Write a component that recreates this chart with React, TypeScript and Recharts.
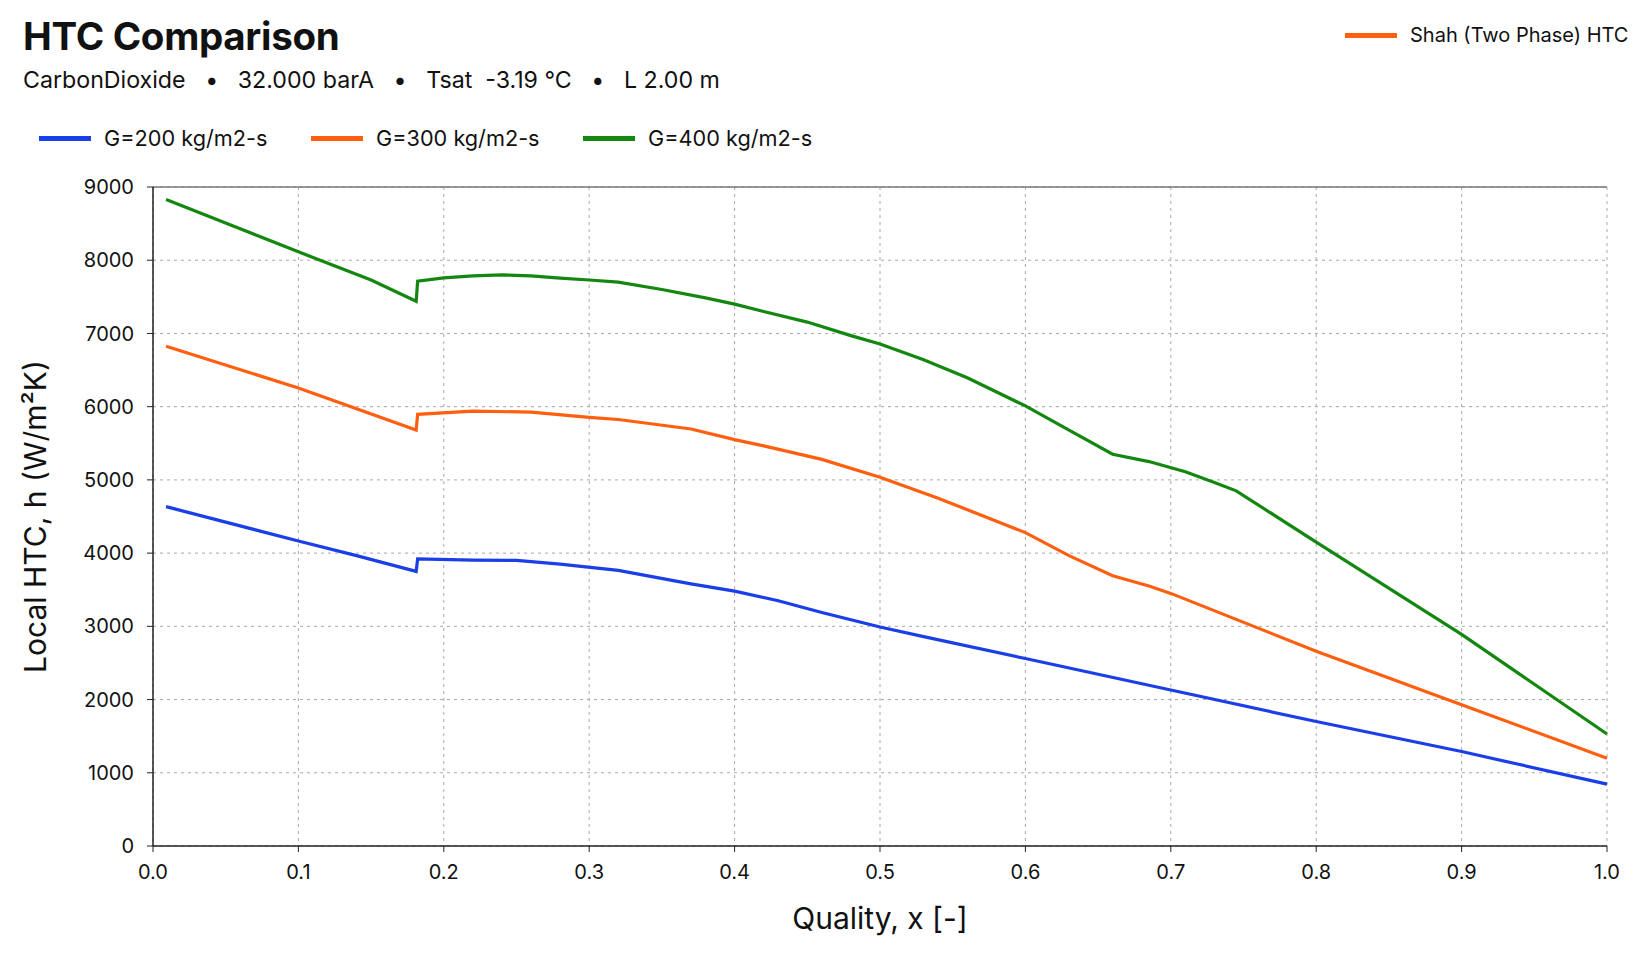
import React from "react"
import {
  LineChart,
  Line,
  XAxis,
  YAxis,
  CartesianGrid,
  ReferenceLine,
} from "recharts"

// quality (x) and local HTC (W/m2K) per mass flux
const G200_X = [0.009, 0.1, 0.14, 0.181, 0.182, 0.22, 0.25, 0.28, 0.32, 0.37, 0.4, 0.43, 0.46, 0.5, 0.53, 0.6, 0.7, 0.8, 0.9, 1.0]
const G200_H = [4635, 4165, 3965, 3750, 3920, 3905, 3900, 3850, 3765, 3580, 3480, 3350, 3190, 2990, 2860, 2560, 2130, 1700, 1290, 845]

const G300_X = [0.009, 0.1, 0.181, 0.182, 0.22, 0.26, 0.3, 0.32, 0.37, 0.4, 0.42, 0.46, 0.5, 0.54, 0.6, 0.63, 0.66, 0.685, 0.7, 0.8, 0.9, 1.0]
const G300_H = [6825, 6255, 5680, 5895, 5940, 5925, 5855, 5825, 5695, 5550, 5465, 5280, 5035, 4750, 4280, 3965, 3690, 3550, 3450, 2660, 1930, 1200]

const G400_X = [0.009, 0.1, 0.15, 0.181, 0.182, 0.2, 0.22, 0.24, 0.26, 0.28, 0.3, 0.32, 0.35, 0.38, 0.4, 0.42, 0.45, 0.48, 0.5, 0.53, 0.56, 0.6, 0.63, 0.66, 0.685, 0.71, 0.73, 0.745, 0.8, 0.9, 1.0]
const G400_H = [8830, 8115, 7730, 7440, 7715, 7760, 7785, 7800, 7785, 7755, 7730, 7700, 7600, 7485, 7400, 7300, 7155, 6970, 6855, 6640, 6395, 6010, 5680, 5350, 5250, 5110, 4965, 4850, 4150, 2890, 1530]

const X_TICKS = [0, 0.1, 0.2, 0.3, 0.4, 0.5, 0.6, 0.7, 0.8, 0.9, 1.0]
const Y_TICKS = [0, 1000, 2000, 3000, 4000, 5000, 6000, 7000, 8000, 9000]

const SERIES = [
  { key: "g200", label: "G=200 kg/m2-s", color: "#1a3fe6", xs: G200_X, hs: G200_H, left: 39 },
  { key: "g300", label: "G=300 kg/m2-s", color: "#ff5f0f", xs: G300_X, hs: G300_H, left: 311 },
  { key: "g400", label: "G=400 kg/m2-s", color: "#13870f", xs: G400_X, hs: G400_H, left: 583 },
]

const toRows = (xs: number[], hs: number[]) => xs.map((x, i) => ({ x, h: hs[i] }))

const FONT = "Inter, 'Noto Sans', sans-serif"

function Swatch({ color }: { color: string }) {
  return <span style={{ display: "inline-block", width: 52, height: 5, background: color, marginRight: 13 }} />
}

export default function App() {
  return (
    <div style={{ position: "absolute", left: 0, top: 0, width: 1643, height: 957, background: "#fff", fontFamily: FONT, color: "#111" }}>
      <div style={{ position: "absolute", left: 23, top: 13, fontSize: 38.5, fontWeight: 700, letterSpacing: -0.3 }}>
        HTC Comparison
      </div>
      <div style={{ position: "absolute", left: 23, top: 66, fontSize: 23.2, whiteSpace: "pre" }}>
        {"CarbonDioxide   •   32.000 barA   •   Tsat  -3.19 °C   •   L 2.00 m"}
      </div>
      <div style={{ position: "absolute", left: 1345, top: 23, fontSize: 20, display: "flex", alignItems: "center" }}>
        <Swatch color="#ff5f0f" />
        Shah (Two Phase) HTC
      </div>
      {SERIES.map((s) => (
        <div
          key={s.key}
          style={{ position: "absolute", left: s.left, top: 125, fontSize: 21.7, display: "flex", alignItems: "center" }}
        >
          <Swatch color={s.color} />
          {s.label}
        </div>
      ))}

      <LineChart
        width={1643}
        height={957}
        margin={{ top: 187, right: 36, bottom: 51, left: 73 }}
        style={{ position: "absolute", left: 0, top: 0 }}
      >
        <CartesianGrid stroke="#a8a8a8" strokeDasharray="3 4" strokeWidth={1} />
        <XAxis
          type="number"
          dataKey="x"
          domain={[0, 1]}
          ticks={X_TICKS}
          tickFormatter={(v: number) => v.toFixed(1)}
          tick={{ fill: "#111", fontSize: 20, fontFamily: FONT }}
          tickLine={{ stroke: "#222" }}
          axisLine={{ stroke: "#222", strokeWidth: 1.5 }}
          tickSize={6}
          tickMargin={13}
          height={60}
          allowDuplicatedCategory={false}
          label={{ value: "Quality, x [-]", position: "insideBottom", offset: -23, fill: "#111", fontSize: 30, fontFamily: FONT }}
        />
        <YAxis
          type="number"
          domain={[0, 9000]}
          ticks={Y_TICKS}
          tick={{ fill: "#111", fontSize: 20, fontFamily: FONT }}
          tickLine={{ stroke: "#222" }}
          axisLine={{ stroke: "#222", strokeWidth: 1.5 }}
          tickSize={6}
          tickMargin={13}
          width={80}
          label={{
            value: "Local HTC, h (W/m²K)",
            angle: -90,
            position: "insideLeft",
            offset: -38,
            style: { textAnchor: "middle" },
            fill: "#111",
            fontSize: 30,
            fontFamily: FONT,
          }}
        />
        <ReferenceLine y={9000} stroke="#777" strokeWidth={1.5} />
        {SERIES.map((s) => (
          <Line
            key={s.key}
            data={toRows(s.xs, s.hs)}
            dataKey="h"
            type="linear"
            stroke={s.color}
            strokeWidth={3.2}
            dot={false}
            isAnimationActive={false}
          />
        ))}
      </LineChart>
    </div>
  )
}
